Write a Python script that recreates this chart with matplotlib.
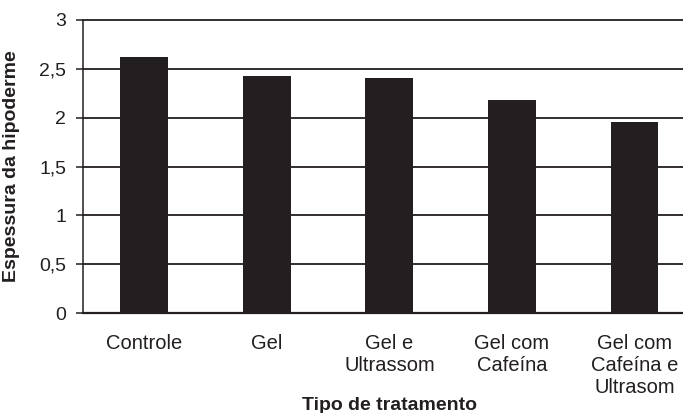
import matplotlib
matplotlib.use('Agg')
import matplotlib.pyplot as plt
import numpy as np

plt.rcParams['font.family'] = ['Liberation Sans', 'DejaVu Sans']

# dados
tratamentos = ['Controle', 'Gel', 'Gel e\nUltrassom', 'Gel com\nCafeína',
               'Gel com\nCafeína e\nUltrasom']
espessura = [2.62, 2.43, 2.41, 2.18, 1.96]
yticks = [0, 0.5, 1, 1.5, 2, 2.5, 3]
ytick_labels = ['0', '0,5', '1', '1,5', '2', '2,5', '3']

cor = '#231f20'

fig = plt.figure(figsize=(6.83, 4.13), dpi=100)
# o eixo passa da borda direita da figura, como no original (recortado)
ax = fig.add_axes([83 / 683, 100 / 413, 612.75 / 683, 293 / 413])

x = np.arange(len(tratamentos))
ax.bar(x, espessura, width=0.39, color=cor, zorder=3)

ax.set_xlim(-0.5, len(tratamentos) - 0.5)
ax.set_ylim(0, 3)
ax.set_yticks(yticks)
ax.set_yticklabels(ytick_labels, fontsize=14)
ax.set_xticks(x)
ax.set_xticklabels(tratamentos, fontsize=14.5, va='top')

ax.tick_params(axis='y', length=5, width=1.1, color=cor, pad=7, labelcolor=cor)
ax.tick_params(axis='x', length=0, pad=15, labelcolor=cor)

ax.yaxis.grid(True, color=cor, linewidth=1.3)
for linha in ax.get_ygridlines():
    linha.set_clip_on(False)
ax.set_axisbelow(True)

for lado in ['top', 'right']:
    ax.spines[lado].set_visible(False)
ax.spines['left'].set_color(cor)
ax.spines['left'].set_linewidth(1.1)
ax.spines['bottom'].set_color(cor)
ax.spines['bottom'].set_linewidth(1.6)

ax.set_ylabel('Espessura da hipoderme', fontsize=14, fontweight='bold', color=cor)
ax.yaxis.set_label_coords(-0.103, 0.5)
ax.set_xlabel('Tipo de tratamento', fontsize=14, fontweight='bold', color=cor)
ax.xaxis.set_label_coords(0.5, -0.285)

fig.savefig('out.png', dpi=100)
